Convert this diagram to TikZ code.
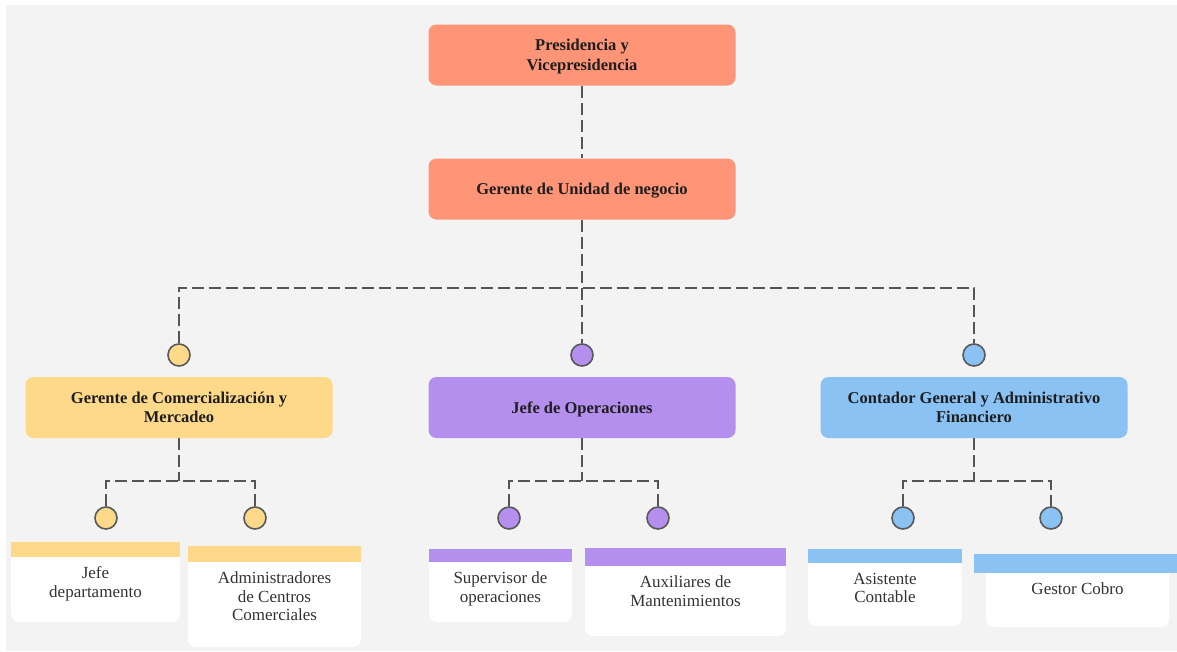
\documentclass[tikz,border=0pt]{standalone}
\usepackage{fontspec}
\setmainfont{Liberation Serif}
\usetikzlibrary{positioning}
\definecolor{salmon}{HTML}{FF9477}
\definecolor{gold}{HTML}{FFD98A}
\definecolor{lilac}{HTML}{B48FEE}
\definecolor{sky}{HTML}{8AC2F4}
\definecolor{panel}{HTML}{F3F3F3}
\definecolor{ink}{HTML}{1E1E1E}
\definecolor{wire}{HTML}{555555}

\begin{document}
\begin{tikzpicture}[x=1pt,y=-1pt]
\tikzstyle{head}=[rectangle, rounded corners=8pt, minimum width=307pt, minimum height=61pt, align=center, text=ink, text depth=0pt, font=\fontsize{16.5}{19.5}\selectfont\bfseries]
\tikzstyle{dot}=[circle, minimum size=22pt, inner sep=0pt, line width=1.6pt, draw=black!65]
\tikzstyle{leaf}=[rectangle, rounded corners=8pt, fill=white, inner sep=0pt]
\tikzstyle{leaftext}=[align=center, text=black!80, inner sep=0pt, font=\fontsize{17}{18.5}\selectfont]
\tikzstyle{link}=[draw=wire, line width=2.6pt, dash pattern=on 12pt off 5pt]
\useasboundingbox (0,0) rectangle (1177,651);
\fill[panel] (6,5) rectangle (1177,651);
	% top
	\node[head, fill=salmon] (pres) at (582,55) {Presidencia y\\Vicepresidencia};
	\node[head, fill=salmon] (gun) at (582,189) {Gerente de Unidad de negocio};
	\coordinate (bus) at (582,288);
	% areas
	\node[dot, fill=gold] (c_com) at (179,355) {};
	\node[dot, fill=lilac] (c_ope) at (582,355) {};
	\node[dot, fill=sky] (c_con) at (974,355) {};
	\node[head, fill=gold] (com) at (179,407.5) {Gerente de Comercialización y\\Mercadeo};
	\node[head, fill=lilac] (ope) at (582,407.5) {Jefe de Operaciones};
	\node[head, fill=sky] (con) at (974,407.5) {Contador General y Administrativo\\Financiero};
	\coordinate (b_com) at (179,481);
	\coordinate (b_ope) at (582,481);
	\coordinate (b_con) at (974,481);
	% second level dots
	\node[dot, fill=gold] (c_jefe) at (106,518) {};
	\node[dot, fill=gold] (c_adm) at (255,518) {};
	\node[dot, fill=lilac] (c_sup) at (509,518) {};
	\node[dot, fill=lilac] (c_aux) at (658,518) {};
	\node[dot, fill=sky] (c_asis) at (903,518) {};
	\node[dot, fill=sky] (c_gest) at (1051,518) {};
	% leaves
	\node[leaf, minimum width=169pt, minimum height=80pt] (jefe) at (95.5,582) {};
	\node[leaf, minimum width=173pt, minimum height=101pt] (adm) at (274.5,596.5) {};
	\node[leaf, minimum width=143pt, minimum height=73pt] (sup) at (500.5,585.5) {};
	\node[leaf, minimum width=201pt, minimum height=88pt] (aux) at (685.5,592) {};
	\node[leaf, minimum width=154pt, minimum height=77pt] (asis) at (885,587.5) {};
	\node[leaf, minimum width=183pt, minimum height=73pt] (gest) at (1077.5,590.5) {};
	\fill[gold] (jefe.north west) rectangle ([yshift=-15pt]jefe.north east);
	\fill[gold] (adm.north west) rectangle ([yshift=-16pt]adm.north east);
	\fill[lilac] (sup.north west) rectangle ([yshift=-13pt]sup.north east);
	\fill[lilac] (aux.north west) rectangle ([yshift=-18pt]aux.north east);
	\fill[sky] (asis.north west) rectangle ([yshift=-14pt]asis.north east);
	\fill[sky] ([xshift=-12pt]gest.north west) rectangle ([xshift=8pt,yshift=-19pt]gest.north east);
	\node[leaftext, below=25pt of jefe.north] (jefe_t) {Jefe\\departamento};
	\node[leaftext, below=26pt of adm.north] (adm_t) {Administradores\\de Centros\\Comerciales};
	\node[leaftext, below=23pt of sup.north] (sup_t) {Supervisor de\\operaciones};
	\node[leaftext, below=28pt of aux.north] (aux_t) {Auxiliares de\\Mantenimientos};
	\node[leaftext, below=24pt of asis.north] (asis_t) {Asistente\\Contable};
	\node[leaftext, below=29pt of gest.north] (gest_t) {Gestor Cobro};

	\draw[link] (pres) -- (gun);
	\draw[link] (gun) -- (bus);
	\draw[link] (c_com) |- (bus) -| (c_con);
	\draw[link] (bus) -- (c_ope);
	\draw[link] (com) -- (b_com);
	\draw[link] (c_jefe) |- (b_com) -| (c_adm);
	\draw[link] (ope) -- (b_ope);
	\draw[link] (c_sup) |- (b_ope) -| (c_aux);
	\draw[link] (con) -- (b_con);
	\draw[link] (c_asis) |- (b_con) -| (c_gest);
\end{tikzpicture}
\end{document}
